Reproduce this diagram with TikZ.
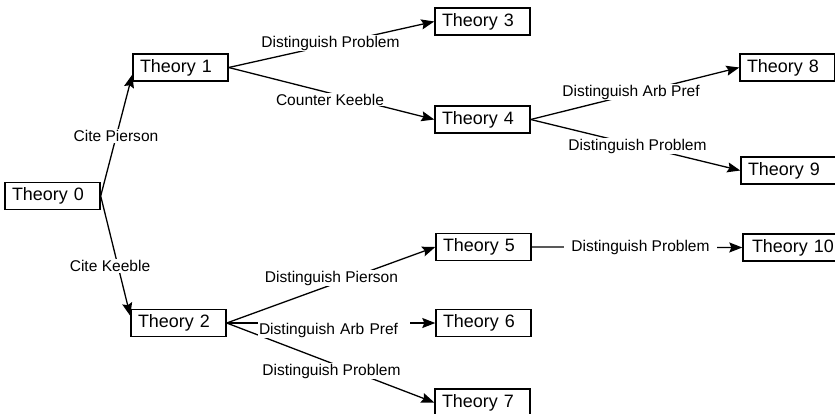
\documentclass[tikz,border=0pt]{standalone}
\usepackage{fontspec}
\setmainfont{Liberation Sans}
\usetikzlibrary{arrows.meta,calc}
\begin{document}
\begin{tikzpicture}[x=1bp,y=-1bp,
  theory/.style={draw=black, line width=1.4bp, minimum height=27bp, text width=81bp, align=left, inner xsep=7bp, inner ysep=0pt, font=\fontsize{18}{20}\selectfont, fill=white},
  lab/.style={fill=white, inner sep=1bp, font=\fontsize{15.6}{17}\selectfont},
  conn/.style={line width=1.3bp, -{Stealth[length=13bp,width=10bp,inset=2bp]}}]
\useasboundingbox (0,0) rectangle (835,413);
% theory boxes
\node[theory] (t0) at (52.5,196) {Theory 0};
\node[theory] (t1) at (180.5,67.5) {Theory 1};
\node[theory] (t2) at (178.5,323) {Theory 2};
\node[theory] (t3) at (482.5,21.5) {Theory 3};
\node[theory] (t4) at (482.5,119.5) {Theory 4};
\node[theory] (t5) at (483.5,247) {Theory 5};
\node[theory] (t6) at (483.5,323) {Theory 6};
\node[theory] (t7) at (482.5,402.5) {Theory 7};
\node[theory] (t8) at (787.5,67.5) {Theory 8};
\node[theory] (t9) at (788.5,170.5) {Theory 9};
\node[theory, text width=88bp, inner xsep=9bp] (t10) at (796,247.5) {Theory 10};
% connectors
\draw[conn] (t0.east) -- ($(t1.west)!0.5!(t1.south west)$);
\draw[conn] (t0.east) -- ($(t2.west)!0.5!(t2.north west)$);
\draw[conn] (t1.east) -- (t3.west);
\draw[conn] (t1.east) -- (t4.west);
\draw[conn] (t4.east) -- (t8.west);
\draw[conn] (t4.east) -- (t9.west);
\draw[conn] (t2.east) -- (t5.west);
\draw[conn] (t2.east) -- (t6.west);
\draw[conn] (t2.east) -- (t7.west);
\draw[conn] (t5.east) -- (t10.west);
% labels
\node[lab] (l01) at (116,136) {Cite Pierson};
\node[lab] (l02) at (110,266) {Cite Keeble};
\node[lab] (l13) at (330.5,43) {Distinguish Problem};
\node[lab] (l14) at (330,99.5) {Counter Keeble};
\node[lab] (l48) at (631,92) {Distinguish Arb Pref};
\node[lab] (l49) at (637.5,146) {Distinguish Problem};
\node[lab] (l25) at (331.5,278) {Distinguish Pierson};
\node[lab, text width=150bp, align=left] (l26) at (334,330) {Distinguish Arb Pref};
\node[lab] (l27) at (331.5,371) {Distinguish Problem};
\node[lab, inner xsep=7bp] (l510) at (640.5,247) {Distinguish Problem};
\end{tikzpicture}
\end{document}
